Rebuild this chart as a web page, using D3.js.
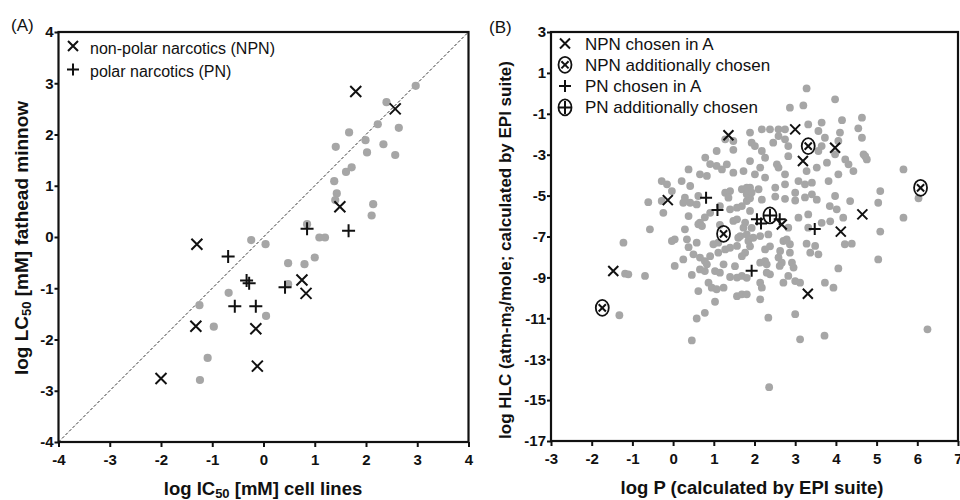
<!DOCTYPE html>
<html><head><meta charset="utf-8">
<script src="https://cdn.jsdelivr.net/npm/d3@7"></script>
<style>
body{margin:0;background:#fff;}
svg{display:block;font-family:"Liberation Sans",Arial,sans-serif;}
</style></head><body>
<svg id="c" width="960" height="500"></svg>
<script>
// ---------- Panel A data (log IC50 cell lines, log LC50 fathead minnow) ----------
const aTicks = [-4,-3,-2,-1,0,1,2,3,4];
const aOther = [[2.97,2.95],[2.40,2.63],[2.23,2.20],[2.64,2.13],[1.67,2.04],[1.41,1.76],[1.99,1.89],[2.34,1.81],[2.02,1.65],[2.57,1.60],[1.72,1.36],[1.61,1.27],[1.38,1.09],[1.43,0.85],[1.40,0.72],[2.14,0.64],[2.11,0.42],[0.85,0.25],[1.09,-0.01],[1.20,-0.01],[-0.24,-0.06],[0.04,-0.14],[0.48,-0.51],[0.80,-0.53],[1.00,-0.40],[0.48,-0.92],[-0.68,-1.09],[-1.25,-1.33],[0.05,-1.54],[-0.97,-1.75],[-1.09,-2.36],[-1.24,-2.79]];
const aNPN = [[1.80,2.84],[2.57,2.50],[1.49,0.59],[-1.30,-0.14],[0.75,-0.84],[0.83,-1.10],[-1.32,-1.74],[-0.15,-1.79],[-0.12,-2.52],[-2.00,-2.76]];
const aPN = [[0.85,0.16],[1.66,0.12],[-0.69,-0.38],[-0.33,-0.85],[-0.28,-0.90],[0.42,-0.98],[-0.56,-1.35],[-0.15,-1.35]];
const aLegend = ["non-polar narcotics (NPN)","polar narcotics (PN)"];

// ---------- Panel B data (log P, log HLC) ----------
const bXTicks = [-3,-2,-1,0,1,2,3,4,5,6,7];
const bYTicks = [3,1,-1,-3,-5,-7,-9,-11,-13,-15,-17];
const bOther = [[3.28,0.24],[3.98,-0.29],[2.87,-0.70],[3.20,-0.59],[4.64,-1.19],[4.15,-1.31],[3.65,-1.43],[3.32,-1.52],[4.55,-1.71],[4.10,-1.92],[4.64,-2.17],[3.57,-1.84],[3.73,-2.17],[4.06,-2.33],[2.18,-1.76],[2.38,-1.76],[2.59,-1.76],[2.75,-1.76],[1.89,-1.92],[2.59,-2.09],[2.75,-2.25],[2.46,-2.41],[1.93,-2.41],[2.01,-2.58],[2.83,-2.58],[3.65,-2.58],[3.57,-2.82],[3.98,-2.98],[4.68,-2.98],[4.76,-3.23],[4.23,-3.23],[4.31,-3.47],[3.78,-3.39],[2.83,-3.07],[2.26,-3.15],[1.89,-3.31],[2.55,-3.47],[2.59,-3.63],[2.14,-3.63],[3.53,-3.63],[4.43,-3.80],[4.06,-3.96],[5.66,-3.72],[3.28,-3.80],[2.75,-3.96],[2.26,-4.12],[2.01,-3.96],[3.08,-4.29],[3.24,-4.45],[3.41,-4.37],[3.82,-4.29],[2.75,-4.45],[2.51,-4.61],[2.10,-4.69],[1.89,-4.61],[5.09,-4.78],[3.98,-5.02],[3.41,-4.94],[3.00,-4.86],
[1.48,-2.33],[1.07,-2.82],[0.38,-3.72],[1.07,-3.55],[1.20,-3.72],[1.32,-3.47],[1.48,-3.88],[1.73,-3.80],[0.66,-3.96],[0.83,-4.04],[-0.28,-4.29],[-0.15,-4.45],[0.21,-4.29],[0.42,-4.53],[1.28,-4.86],[1.40,-4.78],[1.69,-4.69],[1.81,-4.61],
[-0.61,-5.32],[-0.03,-4.78],[-0.24,-5.84],[2.18,-2.82],[0.91,-3.46],[1.48,-2.76],[0.25,-5.35],[0.38,-6.00],[0.62,-5.02],[0.66,-6.32],[0.04,-7.14],[1.11,-7.30],
[-0.28,-5.26],[0.29,-5.10],[0.42,-5.35],[0.58,-5.43],[0.91,-5.84],[1.36,-5.10],[1.57,-5.59],[1.81,-5.27],[0.62,-6.40],[0.71,-6.49],[-0.57,-6.65],[0.29,-6.65],[1.48,-6.24],[1.73,-6.57],[1.81,-6.90],[1.60,-7.06],[-1.22,-7.30],[-0.03,-7.22],[0.34,-7.14],[0.38,-7.52],[0.99,-7.38],[1.40,-7.55],[1.57,-7.46],[1.77,-7.79],[0.50,-7.87],[0.25,-8.12],[0.66,-8.03],[0.78,-8.20],[0.83,-8.36],[1.11,-7.79],[1.24,-8.36],[0.04,-8.44],[0.66,-8.61],[0.78,-8.69],[1.03,-8.69],[1.15,-8.77],[0.46,-8.88],[-1.18,-8.82],[-1.10,-8.85],[-0.69,-8.93],[0.87,-9.26],[0.95,-9.50],[1.07,-9.58],[1.40,-8.98],[1.57,-9.01],[1.69,-8.93],[1.24,-9.50],[0.62,-9.67],[1.57,-9.92],[1.69,-9.83],[1.03,-10.19],[0.78,-10.73],[-1.32,-10.85],[0.58,-11.01],
[1.89,-5.13],[2.18,-5.20],[2.51,-5.05],[2.75,-5.16],[3.00,-5.24],[3.24,-5.09],[3.53,-5.20],[3.85,-5.51],[4.02,-5.67],[4.35,-5.27],[5.04,-5.35],[5.66,-6.08],[4.18,-6.08],[3.08,-6.08],[3.32,-5.92],[3.65,-6.33],[3.86,-6.26],[3.32,-6.57],[2.34,-6.90],[2.83,-6.57],[1.85,-7.22],[1.97,-7.06],[2.71,-7.22],[2.87,-7.38],[3.28,-7.35],[3.49,-7.46],[4.22,-7.38],[4.39,-7.35],[5.09,-6.76],[2.26,-7.63],[2.63,-7.71],[3.37,-7.79],[3.57,-7.87],[2.59,-8.03],[2.67,-8.28],[2.92,-8.28],[2.96,-8.52],[5.04,-8.12],[2.14,-8.28],[2.26,-8.20],[4.06,-8.56],[2.38,-8.85],[2.83,-8.93],[3.00,-9.18],[2.14,-9.26],[2.18,-9.50],[2.71,-9.26],[3.12,-9.26],[3.73,-9.26],[3.94,-9.50],[1.81,-9.02],[1.81,-9.83],[2.14,-10.07],[3.00,-10.80],[2.34,-10.97],
[0.46,-12.08],[3.12,-12.03],[3.72,-11.85],[2.36,-14.37],[6.25,-11.54],[6.03,-5.13],[4.72,-3.07],
[1.81,-4.94],[1.93,-4.85],[1.69,-5.51],[1.89,-5.75],[1.57,-6.16],[1.77,-6.32],[1.65,-6.98],[2.14,-6.98],[1.89,-7.48],[1.69,-7.96],[1.52,-8.45],[2.38,-7.48],[2.79,-7.14],[2.87,-7.79],[2.30,-8.36],[2.30,-8.77],[2.62,-8.44],[1.15,-5.51],[1.40,-5.67],[1.93,-6.58],
[0.78,-6.06],[0.58,-7.30],[1.15,-6.43],[0.91,-7.96],[1.28,-7.63],[0.79,-3.14],[1.28,-2.25]];
const bNPN = [[1.36,-2.05],[3.00,-1.76],[3.19,-3.31],[3.98,-2.66],[-0.13,-5.22],[4.65,-5.92],[2.67,-6.41],[4.12,-6.76],[-1.47,-8.69],[3.31,-9.80]];
const bNPNadd = [[3.32,-2.58],[1.24,-6.87],[6.08,-4.62],[-1.74,-10.49]];
const bPN = [[0.81,-5.10],[1.09,-5.71],[2.06,-6.16],[2.16,-6.36],[2.62,-6.16],[3.48,-6.63],[1.93,-8.67]];
const bPNadd = [[2.38,-5.97]];
const bLegend = ["NPN chosen in A","NPN additionally chosen","PN chosen in A","PN additionally chosen"];

const svg = d3.select("#c");
const GREY = "#a6a6a6";
const FONT = "'Liberation Sans', Arial, sans-serif";

function xMark(g, s){ g.append("path").attr("d",`M${-s},${-s}L${s},${s}M${-s},${s}L${s},${-s}`).attr("stroke","#111").attr("stroke-width",2).attr("fill","none"); }
function plusMark(g, s){ g.append("path").attr("d",`M${-s},0H${s}M0,${-s}V${s}`).attr("stroke","#111").attr("stroke-width",2).attr("fill","none"); }
function oval(g){ g.append("ellipse").attr("rx",6.5).attr("ry",8).attr("fill","none").attr("stroke","#111").attr("stroke-width",1.8); }

function drawMarks(layer, data, x, y, fn){
  layer.selectAll(null).data(data).enter().append("g")
    .attr("transform", d=>`translate(${x(d[0])},${y(d[1])})`)
    .each(function(){ fn(d3.select(this)); });
}

function frame(g, x, y, xt, yt){
  const [x0,x1] = x.range(), [y0,y1] = y.range();
  const xa = g.append("g").attr("transform",`translate(0,${y0})`)
    .call(d3.axisBottom(x).tickValues(xt).tickSize(5).tickPadding(7).tickFormat(d3.format("d")));
  const ya = g.append("g").attr("transform",`translate(${x0},0)`)
    .call(d3.axisLeft(y).tickValues(yt).tickSize(4).tickPadding(1).tickFormat(d3.format("d")));
  [xa,ya].forEach(a=>{
    a.attr("font-size",null).attr("font-family",null);
    a.select(".domain").remove();
    a.selectAll(".tick line").attr("stroke","#111").attr("stroke-width",2);
    a.selectAll(".tick text").text(d=>String(d).replace("\u2212","-"))
      .attr("font-size",15).attr("font-weight","bold").attr("font-family",FONT).attr("fill","#111");
  });
  g.append("rect").attr("x",x0).attr("y",y1).attr("width",x1-x0).attr("height",y0-y1)
    .attr("fill","none").attr("stroke","#111").attr("stroke-width",2.2);
}

// ================= Panel A =================
const xA = d3.scaleLinear().domain([-4,4]).range([58.5,468.5]);
const yA = d3.scaleLinear().domain([-4,4]).range([442,32]);
const gA = svg.append("g");
gA.append("line").attr("x1",xA(-4)).attr("y1",yA(-4)).attr("x2",xA(4)).attr("y2",yA(4))
  .attr("stroke","#333").attr("stroke-width",1).attr("stroke-dasharray","3,2");
gA.selectAll("circle.o").data(aOther).enter().append("circle")
  .attr("cx",d=>xA(d[0])).attr("cy",d=>yA(d[1])).attr("r",4.1).attr("fill",GREY);
drawMarks(gA, aNPN, xA, yA, g=>xMark(g,5.5));
drawMarks(gA, aPN, xA, yA, g=>plusMark(g,6.5));
frame(gA, xA, yA, aTicks, aTicks);
// legend A
const legA = gA.append("g");
[[xMark,5],[plusMark,6]].forEach((m,i)=>{
  const g = legA.append("g").attr("transform",`translate(73,${46+i*23.5})`); m[0](g,m[1]);
  legA.append("text").attr("x",90).attr("y",53.5+i*23.5).attr("font-size",16).attr("fill","#111").text(aLegend[i]);
});
svg.append("text").attr("x",11).attr("y",31).attr("font-size",17).attr("fill","#111").text("(A)");
// axis titles A
const tA = svg.append("text").attr("x",263).attr("y",495).attr("text-anchor","middle").attr("font-weight","bold").attr("font-size",18.5).attr("fill","#111");
tA.append("tspan").text("log IC");
tA.append("tspan").attr("font-size",13).attr("dy",3).text("50");
tA.append("tspan").attr("dy",-3).text(" [mM] cell lines");
const yTA = svg.append("text").attr("transform","translate(28,238) rotate(-90)").attr("text-anchor","middle").attr("font-weight","bold").attr("font-size",19).attr("fill","#111");
yTA.append("tspan").text("log LC");
yTA.append("tspan").attr("font-size",13).attr("dy",3).text("50");
yTA.append("tspan").attr("dy",-3).text(" [mM] fathead minnow");

// ================= Panel B =================
const xB = d3.scaleLinear().domain([-3,7]).range([551,958]);
const yB = d3.scaleLinear().domain([-17,3]).range([441,32]);
const gB = svg.append("g");
gB.selectAll("circle.o").data(bOther).enter().append("circle")
  .attr("cx",d=>xB(d[0])).attr("cy",d=>yB(d[1])).attr("r",3.9).attr("fill",GREY);
drawMarks(gB, bNPN, xB, yB, g=>xMark(g,5));
drawMarks(gB, bPN, xB, yB, g=>plusMark(g,6));
drawMarks(gB, bNPNadd, xB, yB, g=>{oval(g); xMark(g,3.6);});
drawMarks(gB, bPNadd, xB, yB, g=>{oval(g); plusMark(g,6.5);});
frame(gB, xB, yB, bXTicks, bYTicks);
const legMarks = [g=>xMark(g,5), g=>{oval(g); xMark(g,3.6);}, g=>plusMark(g,6), g=>{oval(g); plusMark(g,6.5);}];
legMarks.forEach((m,i)=>{
  const g = gB.append("g").attr("transform",`translate(565,${43.5+i*21.3})`); m(g);
  gB.append("text").attr("x",585).attr("y",49.5+i*21.3).attr("font-size",17).attr("fill","#111").text(bLegend[i]);
});
svg.append("text").attr("x",489).attr("y",33).attr("font-size",17).attr("fill","#111").text("(B)");
svg.append("text").attr("x",752).attr("y",494).attr("text-anchor","middle").attr("font-weight","bold").attr("font-size",18.5).attr("fill","#111").text("log P (calculated by EPI suite)");
const yTB = svg.append("text").attr("transform","translate(511,250) rotate(-90)").attr("text-anchor","middle").attr("font-weight","bold").attr("font-size",17).attr("fill","#111");
yTB.append("tspan").text("log HLC (atm-m");
yTB.append("tspan").attr("font-size",12).attr("dy",3).text("3");
yTB.append("tspan").attr("dy",-3).text("/mole; calculated by EPI suite)");
</script></body></html>
